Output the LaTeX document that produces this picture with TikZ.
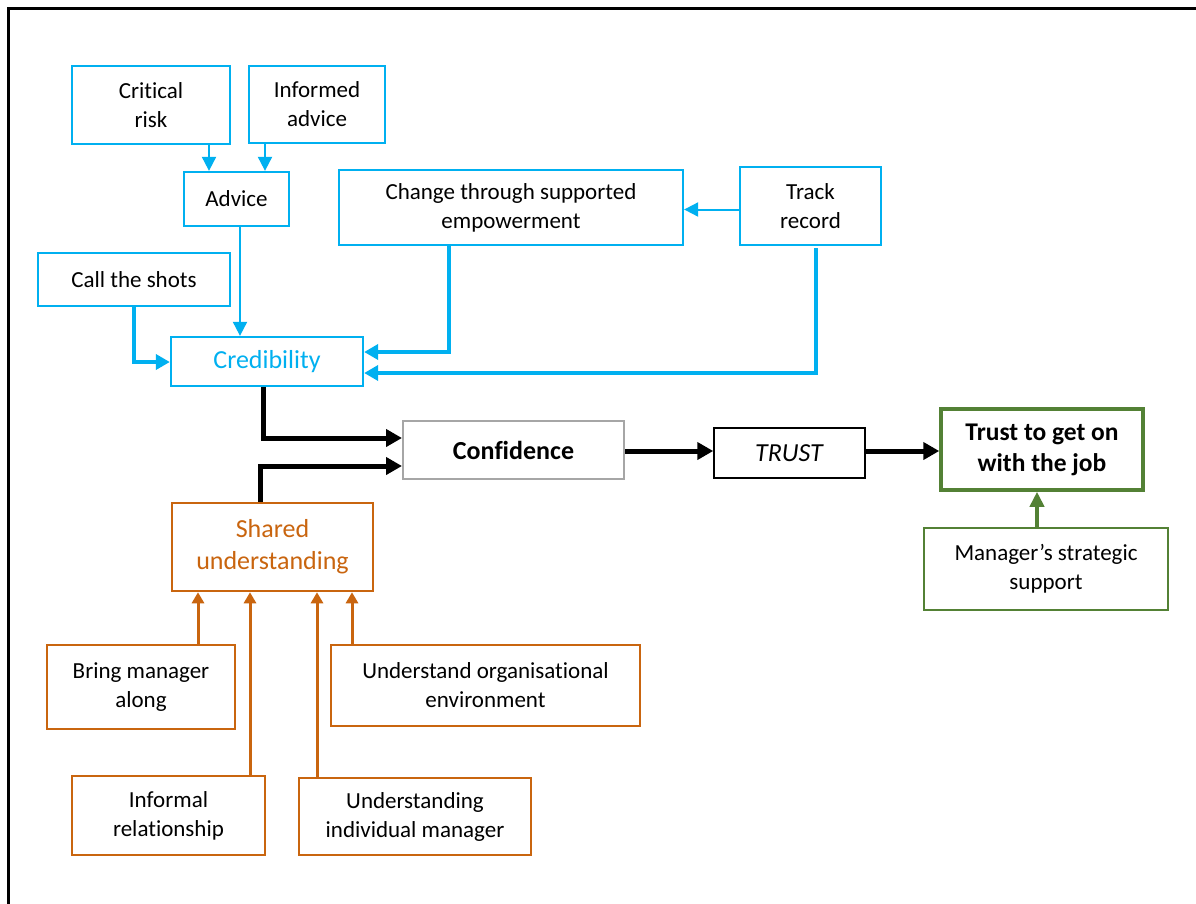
\documentclass[tikz,border=0pt]{standalone}
\usepackage{fontspec}
\setmainfont{Carlito}[Ligatures=NoCommon]
\usetikzlibrary{arrows.meta}
\definecolor{cblue}{HTML}{00B0F0}
\definecolor{corange}{HTML}{C9650F}
\definecolor{cgreen}{HTML}{538135}
\definecolor{cgrey}{HTML}{A6A6A6}
\begin{document}
\begin{tikzpicture}[x=1pt,y=-1pt,
  base/.style={rectangle,inner sep=0pt,align=center,fill=white,
    font=\fontsize{23}{29}\selectfont},
  bigtext/.style={font=\fontsize{26}{32}\selectfont},
  bluebox/.style={base,draw=cblue,line width=2.3pt},
  orangebox/.style={base,draw=corange,line width=2.5pt},
  sz/.style 2 args={minimum width=#1,minimum height=#2},
  bluethin/.style={draw=cblue,line width=2pt,-{Triangle[length=14pt,width=14pt]}},
  bluethick/.style={draw=cblue,line width=4pt,-{Triangle[length=14pt,width=15pt]}},
  blackarr/.style={draw=black,line width=5pt,-{Triangle[length=16pt,width=17pt]}},
  orangearr/.style={draw=corange,line width=3pt,-{Triangle[length=11pt,width=12pt]}},
  greenarr/.style={draw=cgreen,line width=4pt,-{Triangle[length=15pt,width=14pt]}}]
\useasboundingbox (0,0) rectangle (1196,903);
\fill[white] (0,0) rectangle (1196,903);
% outer frame, open to the right and bottom
\draw[line width=3.5pt] (8.5,905) -- (8.5,8.5) -- (1198,8.5);

% credibility cluster
\node[bluebox,sz={158pt}{78pt}] (crit) at (151,105) {Critical\\risk};
\node[bluebox,sz={136pt}{77pt}] (inf) at (317,104.5) {Informed\\advice};
\node[bluebox,sz={105pt}{54pt}] (adv) at (236.5,199) {Advice};
\node[bluebox,sz={192pt}{53pt}] (call) at (134,279.5) {Call the shots};
\node[bluebox,bigtext,text=cblue,sz={192pt}{49pt}] (cred) at (267,361.5) {Credibility};
\node[bluebox,sz={344pt}{75pt}] (chg) at (511,207.5) {Change through supported\\empowerment};
\node[bluebox,sz={141pt}{78pt}] (track) at (810.5,206) {Track\\record};

% central chain
\node[base,bigtext,draw=cgrey,line width=2pt,sz={221pt}{58pt}] (conf) at (513.5,450) {\textbf{Confidence}};
\node[base,bigtext,draw=black,line width=1.5pt,sz={151pt}{50pt}] (trust) at (789.5,453) {\textit{TRUST}};
\node[base,draw=cgreen,line width=3.5pt,sz={202pt}{81pt},font=\fontsize{25.5}{31}\selectfont\bfseries] (job) at (1042,449.5) {Trust to get on\\with the job};
\node[base,draw=cgreen,line width=2pt,sz={244pt}{82pt}] (mgr) at (1046,569) {Manager’s strategic\\support};

% shared understanding cluster
\node[orangebox,bigtext,text=corange,sz={201pt}{88pt}] (shared) at (272.5,547) {Shared\\understanding};
\node[orangebox,sz={188pt}{84pt}] (bring) at (141,687) {Bring manager\\along};
\node[orangebox,sz={309pt}{81pt}] (org) at (485.5,685.5) {Understand organisational\\environment};
\node[orangebox,sz={193pt}{79pt}] (infrel) at (168.5,815.5) {Informal\\relationship};
\node[orangebox,sz={232pt}{77pt}] (indiv) at (415,816.5) {Understanding\\individual manager};

% routing positions
\coordinate (x134) at (134,0);
\coordinate (x198) at (198,0);
\coordinate (x209) at (209,0);
\coordinate (x240) at (240,0);
\coordinate (x250) at (250,0);
\coordinate (x260) at (260,0);
\coordinate (x263) at (263,0);
\coordinate (x265) at (265,0);
\coordinate (x317) at (317,0);
\coordinate (x352) at (352,0);
\coordinate (x449) at (449,0);
\coordinate (x816) at (816,0);
\coordinate (x1037) at (1037,0);
\coordinate (y209) at (0,209.5);
\coordinate (y352) at (0,352);
\coordinate (y362) at (0,362);
\coordinate (y373) at (0,373);
\coordinate (y438) at (0,438);
\coordinate (y451) at (0,451);
\coordinate (y466) at (0,466);

% credibility connectors
\draw[bluethin] (crit.south -| x209) -- (adv.north -| x209);
\draw[bluethin] (inf.south -| x265) -- (adv.north -| x265);
\draw[bluethin] (adv.south -| x240) -- (cred.north -| x240);
\draw[bluethin] (track.west |- y209) -- (chg.east |- y209);
\draw[bluethick] (call.south -| x134) |- (cred.west |- y362);
\draw[bluethick] (chg.south -| x449) |- (cred.east |- y352);
\draw[bluethick] ([yshift=-2pt]track.south -| x816) |- (cred.east |- y373);

% main chain connectors
\draw[blackarr] (cred.south -| x263) |- (conf.west |- y438);
\draw[blackarr] (shared.north -| x260) |- (conf.west |- y466);
\draw[blackarr] (conf.east |- y451) -- (trust.west |- y451);
\draw[blackarr] (trust.east |- y451) -- (job.west |- y451);
\draw[greenarr] (mgr.north -| x1037) -- (job.south -| x1037);

% shared understanding connectors
\draw[orangearr] (bring.north -| x198) -- (shared.south -| x198);
\draw[orangearr] (infrel.north -| x250) -- (shared.south -| x250);
\draw[orangearr] (indiv.north -| x317) -- (shared.south -| x317);
\draw[orangearr] (org.north -| x352) -- (shared.south -| x352);
\end{tikzpicture}
\end{document}
